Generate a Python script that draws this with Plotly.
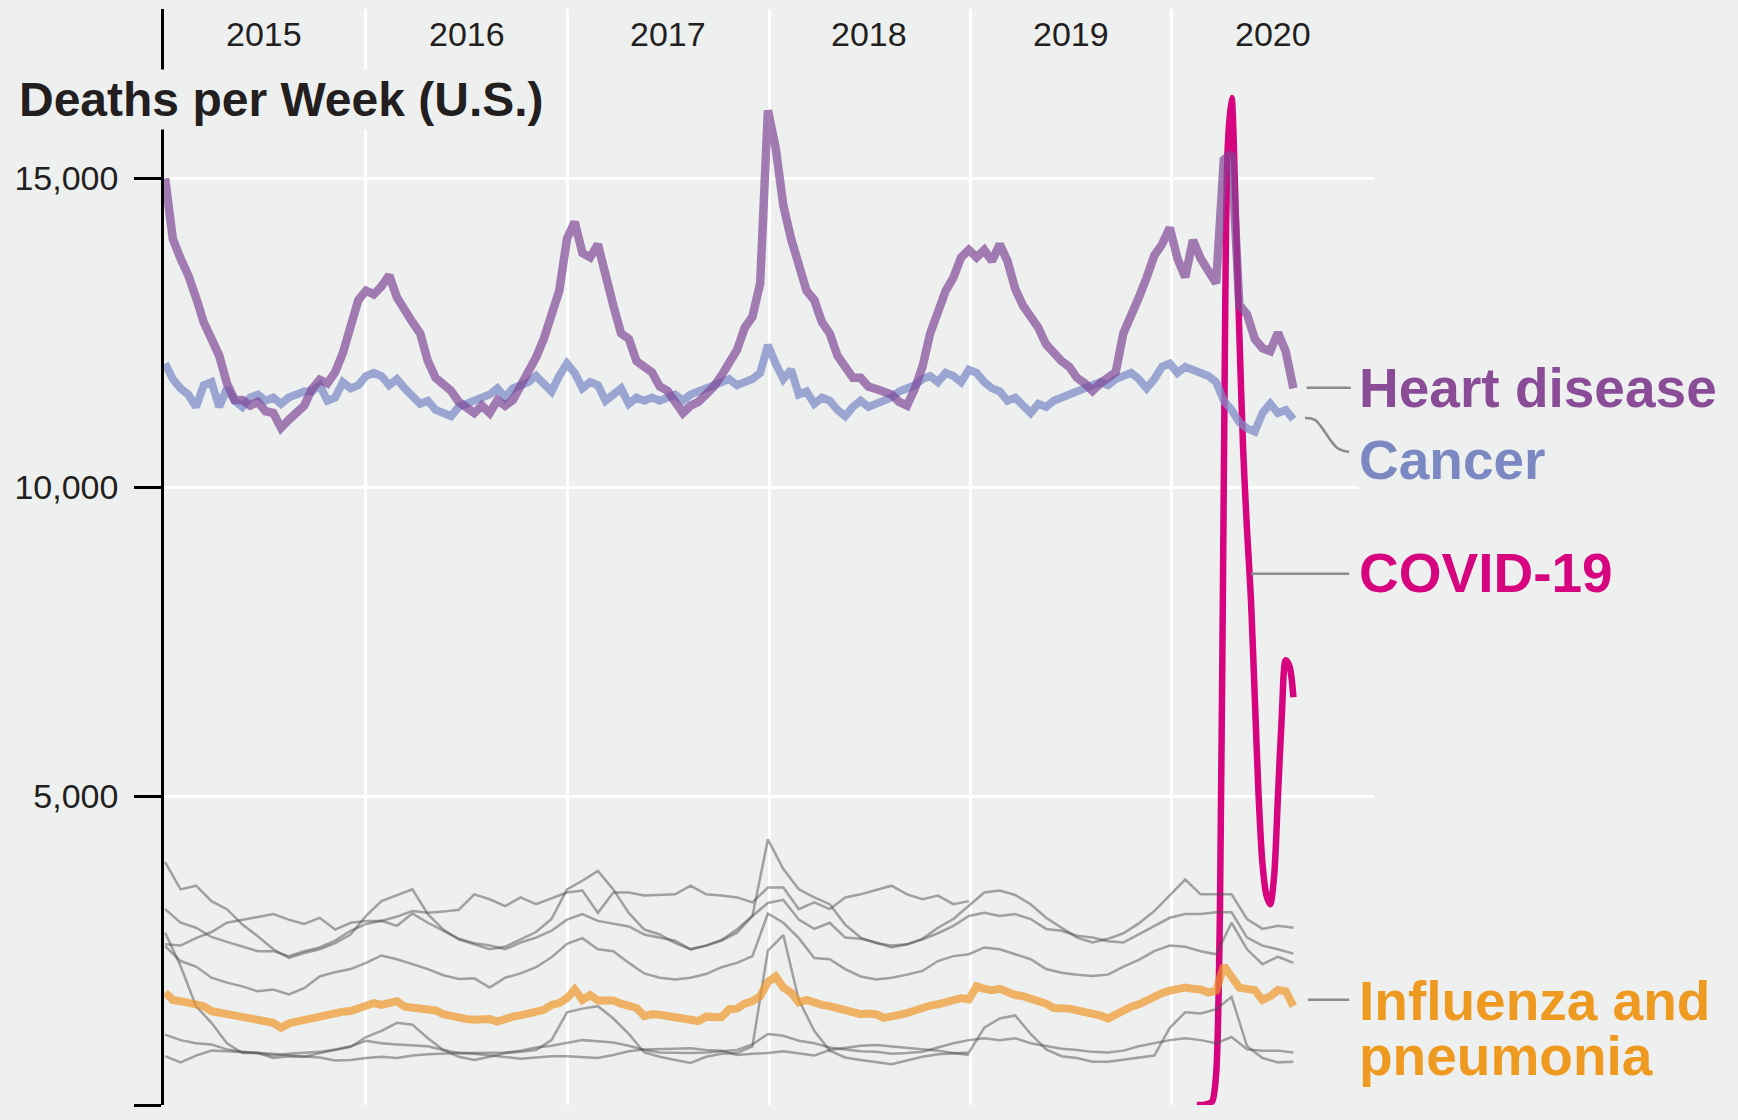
import pandas as pd
import plotly.express as px


def build_deaths_df():
    """주별 사망자 수 (원인별) 데이터프레임"""
    biweekly = pd.date_range('2015-01-03', periods=147, freq='14D')
    four_weekly = pd.date_range('2015-01-03', periods=74, freq='28D')
    covid_weeks = pd.date_range('2020-02-15', periods=26, freq='7D')

    heart = [
        15000, 14020, 13700, 13430, 13070, 12670, 12400, 12130, 11680, 11410,
        11410, 11320, 11380, 11230, 11200, 10960, 11090, 11230, 11320, 11590,
        11740, 11680, 11860, 12170, 12580, 13030, 13180, 13120, 13250, 13430,
        13070, 12850, 12670, 12490, 12040, 11770, 11680, 11560, 11380, 11270,
        11200, 11320, 11200, 11410, 11320, 11410, 11630, 11860, 12100, 12400,
        12760, 13180, 14020, 14290, 13790, 13720, 13930, 13390, 12940, 12490,
        12400, 12040, 11950, 11860, 11630, 11560, 11380, 11200, 11320, 11380,
        11500, 11630, 11810, 11990, 12220, 12580, 12760, 13300, 16100, 15500,
        14560, 14020, 13570, 13180, 13030, 12670, 12490, 12130, 11950, 11770,
        11770, 11630, 11590, 11560, 11500, 11380, 11320, 11590, 11950, 12490,
        12850, 13180, 13390, 13720, 13840, 13720, 13840, 13660, 13930, 13660,
        13210, 12940, 12760, 12580, 12310, 12170, 12040, 11950, 11770, 11680,
        11560, 11680, 11770, 11860, 12490, 12760, 13070, 13390, 13750, 13930,
        14200, 13700, 13400, 14000, 13700, 13500, 13300, 15300, 15400, 12950,
        12800, 12400, 12250, 12200, 12500, 12200, 11600,
    ]
    cancer = [
        12000, 11750, 11600, 11500, 11300, 11650, 11700, 11300, 11600, 11400,
        11300, 11450, 11500, 11400, 11450, 11350, 11450, 11500, 11550, 11550,
        11650, 11400, 11450, 11700, 11600, 11650, 11800, 11850, 11800, 11650,
        11750, 11600, 11450, 11350, 11400, 11250, 11200, 11150, 11300, 11350,
        11400, 11450, 11500, 11600, 11450, 11600, 11650, 11700, 11800, 11650,
        11550, 11800, 12000, 11850, 11600, 11700, 11650, 11400, 11500, 11600,
        11350, 11450, 11400, 11450, 11400, 11450, 11500, 11400, 11500, 11550,
        11600, 11650, 11700, 11750, 11650, 11700, 11750, 11850, 12300, 12000,
        11750, 11900, 11500, 11550, 11350, 11450, 11400, 11250, 11150, 11300,
        11400, 11300, 11350, 11400, 11450, 11550, 11600, 11650, 11750, 11800,
        11700, 11850, 11800, 11700, 11900, 11850, 11700, 11600, 11550, 11400,
        11450, 11300, 11200, 11350, 11300, 11400, 11450, 11500, 11550, 11600,
        11650, 11700, 11650, 11750, 11800, 11850, 11750, 11600, 11750, 11950,
        12000, 11850, 11950, 11900, 11850, 11800, 11700, 11400, 11250, 11050,
        10950, 10900, 11200, 11350, 11200, 11250, 11100,
    ]
    flu = [
        1820, 1700, 1680, 1650, 1620, 1600, 1520, 1500, 1470, 1430,
        1440, 1400, 1390, 1380, 1330, 1250, 1320, 1350, 1380, 1390,
        1430, 1470, 1490, 1510, 1520, 1560, 1580, 1650, 1620, 1640,
        1680, 1590, 1570, 1540, 1520, 1530, 1470, 1440, 1400, 1390,
        1380, 1400, 1390, 1350, 1400, 1430, 1450, 1480, 1500, 1540,
        1620, 1650, 1730, 1870, 1700, 1780, 1690, 1700, 1690, 1640,
        1620, 1570, 1440, 1470, 1460, 1440, 1430, 1420, 1410, 1360,
        1430, 1440, 1420, 1550, 1560, 1640, 1680, 1760, 1990, 2080,
        1900, 1820, 1660, 1700, 1650, 1620, 1600, 1570, 1520, 1480,
        1470, 1480, 1470, 1410, 1450, 1460, 1490, 1540, 1560, 1610,
        1630, 1660, 1700, 1730, 1710, 1920, 1880, 1860, 1880, 1820,
        1780, 1760, 1720, 1690, 1640, 1570, 1580, 1560, 1530, 1510,
        1490, 1450, 1400, 1470, 1550, 1590, 1630, 1700, 1740, 1810,
        1850, 1890, 1900, 1880, 1870, 1820, 1850, 2250, 2100, 1900,
        1880, 1860, 1700, 1760, 1860, 1840, 1600,
    ]
    covid = [
        0, 0, 5, 20, 60, 500, 3200, 10200, 15500, 16300,
        14600, 12500, 10600, 9300, 8200, 6600, 5000, 3900, 3400, 3250,
        3700, 5000, 6300, 7200, 7100, 6600,
    ]

    # 회색 배경 선 (4주 간격)
    others = {
        'other 1': [
            2600, 2580, 2700, 2800, 2950, 3000, 3050, 3090, 3000, 2930,
            3030, 2840, 2950, 2980, 2980, 3050, 3140, 3110, 3130, 3160,
            3410, 3330, 3220, 3360, 3250, 3350, 3440, 3470, 3110, 3440,
            3440, 3390, 3400, 3410, 3550, 3410, 3390, 3360, 3280, 3520,
            3520, 3170, 3280, 3170, 3360, 3410, 3480, 3550, 3410, 3330,
            3390, 3250, 3300,
        ],
        'other 2': [
            3930, 3490, 3550, 3300, 3170, 2920, 2730, 2520, 2380, 2460,
            2520, 2620, 2760, 3060, 3300, 3390, 3490, 3090, 2840, 2680,
            2600, 2520, 2560, 2680, 2800, 3010, 3490, 3630, 3790, 3490,
            3110, 2840, 2760, 2620, 2520, 2580, 2670, 2840, 3060, 4300,
            3820, 3490, 3360, 3250, 2920, 2710, 2620, 2580, 2600, 2690,
            2870, 3010, 3220, 3440, 3470, 3400, 3250, 3030, 2870, 2710,
            2630, 2690, 2780, 2940, 3140, 3390, 3650, 3410, 3410, 3410,
            3010, 2850, 2900, 2870,
        ],
        'other 3': [
            3170, 2950, 2870, 2720, 2640, 2570, 2490, 2490, 2410, 2490,
            2550, 2660, 2820, 2930, 2980, 2900, 3100, 2950, 2820, 2690,
            2620, 2580, 2520, 2630, 2710, 2820, 3000, 3090, 2980, 2930,
            2890, 2760, 2710, 2660, 2520, 2580, 2660, 2790, 3060, 3270,
            3320, 3000, 2850, 2950, 2710, 2690, 2630, 2550, 2600, 2680,
            2780, 2900, 3060, 3110, 3060, 3090, 3010, 2850, 2820, 2740,
            2710, 2650, 2630, 2760, 2890, 3030, 3090, 3090, 3120, 3120,
            2710, 2580, 2520, 2450,
        ],
        'other 4': [
            2570, 2330, 2240, 2060, 1980, 1920, 1840, 1870, 1790, 1890,
            2080, 2150, 2200, 2300, 2420, 2360, 2280, 2200, 2100, 2040,
            2050, 1900, 2060, 2130, 2230, 2390, 2610, 2700, 2520, 2490,
            2300, 2130, 2060, 2030, 2060, 2120, 2230, 2300, 2410, 3100,
            2950, 2700, 2380, 2360, 2200, 2080, 2030, 2060, 2110, 2170,
            2330, 2410, 2440, 2550, 2520, 2440, 2360, 2200, 2140, 2110,
            2090, 2110, 2240, 2350, 2490, 2580, 2560, 2490, 2440, 2950,
            2520, 2280, 2400, 2300,
        ],
        'other 5': [
            2790, 2250, 1600, 1330, 1000, 840, 840, 760, 790, 780,
            840, 890, 940, 1100, 1200, 1330, 1300, 1080, 890, 780,
            730, 780, 840, 860, 890, 1050, 1500, 1560, 1600, 1400,
            1150, 850, 780, 730, 680, 780, 830, 840, 950, 2500,
            2750, 1700, 1200, 880, 770, 730, 700, 660, 720, 780,
            820, 830, 850, 1250, 1400, 1450, 1150, 900, 790, 760,
            700, 700, 730, 760, 800, 1250, 1500, 1480, 1550, 1750,
            950, 760, 690, 700,
        ],
        'other 6': [
            1140, 1050, 1000, 980, 900, 860, 840, 800, 830, 840,
            860, 900, 950, 1040, 1000, 980, 970, 950, 890, 840,
            840, 840, 850, 880, 930, 960, 1000, 1050, 1030, 1010,
            960, 890, 850, 840, 840, 850, 870, 890, 980, 1150,
            1120, 1040, 1000, 930, 900, 870, 860, 830, 840, 860,
            930, 1000, 1050, 1080, 1050, 1080, 1000, 950, 910, 890,
            860, 850, 880, 950, 1000, 1050, 1080, 1050, 1000, 1100,
            900, 880, 880, 850,
        ],
        'other 7': [
            790, 690, 800, 880, 870, 860, 840, 830, 800, 790,
            770, 720, 730, 760, 780, 760, 800, 820, 830, 840,
            830, 800, 770, 750, 770, 790, 790, 780, 760, 810,
            870, 900, 900, 910, 920, 890, 880, 810, 830, 840,
            870, 830, 800, 890, 920, 960, 970, 950, 920, 900,
            880, 840, 810,
        ],
    }

    frames = [pd.DataFrame({'date': covid_weeks, 'deaths': covid, 'cause': 'COVID-19'})]
    for name, values in others.items():
        frames.append(pd.DataFrame({'date': four_weekly[:len(values)], 'deaths': values, 'cause': name}))
    frames.append(pd.DataFrame({'date': biweekly, 'deaths': flu, 'cause': 'Influenza and pneumonia'}))
    frames.append(pd.DataFrame({'date': biweekly, 'deaths': cancer, 'cause': 'Cancer'}))
    frames.append(pd.DataFrame({'date': biweekly, 'deaths': heart, 'cause': 'Heart disease'}))

    return pd.concat(frames, ignore_index=True)


def create_deaths_chart(deaths_df):
    """원인별 주간 사망자 수 라인 차트"""
    bg = '#EEF0EF'
    gray = 'rgba(80,80,80,0.5)'
    colors = {
        'COVID-19': '#D6047E',
        'Influenza and pneumonia': 'rgba(240,150,40,0.7)',
        'Cancer': 'rgba(127,140,200,0.75)',
        'Heart disease': 'rgba(127,71,151,0.7)',
    }
    colors.update({f'other {i}': gray for i in range(1, 8)})

    fig = px.line(
        deaths_df,
        x='date',
        y='deaths',
        color='cause',
        color_discrete_map=colors
    )

    fig.update_traces(line_width=2.5)
    fig.update_traces(line_width=8.5, selector=dict(name='Heart disease'))
    fig.update_traces(line_width=8, selector=dict(name='Cancer'))
    fig.update_traces(line_width=8, selector=dict(name='Influenza and pneumonia'))
    fig.update_traces(line_width=6.5, line_shape='spline', line_smoothing=0.8,
                      selector=dict(name='COVID-19'))

    # 라벨 연결선
    leaders = [
        (['2020-09-01', '2020-11-20'], [11610, 11610], 'linear'),
        (['2020-08-29', '2020-09-16', '2020-10-26', '2020-11-17'], [11120, 11090, 10640, 10570], 'spline'),
        (['2020-05-23', '2020-11-17'], [8600, 8600], 'linear'),
        (['2020-09-03', '2020-11-17'], [1705, 1705], 'linear'),
    ]
    for xs, ys, shape in leaders:
        fig.add_scatter(x=xs, y=ys, mode='lines', line=dict(color='#8C8C8C', width=2.5, shape=shape),
                        showlegend=False, hoverinfo='skip')

    fig.update_layout(
        width=1738,
        height=1120,
        autosize=False,
        showlegend=False,
        margin=dict(l=164, r=364, t=9, b=15),
        plot_bgcolor=bg,
        paper_bgcolor=bg,
        font=dict(family='Liberation Sans, Arial, sans-serif', color='#231F20')
    )
    fig.update_xaxes(
        range=['2015-01-01', '2021-01-01'],
        tick0='2015-01-01',
        dtick='M12',
        showgrid=True,
        gridcolor='white',
        gridwidth=2.5,
        showticklabels=False,
        ticks='',
        zeroline=False,
        title_text=None
    )
    fig.update_yaxes(
        range=[0, 17740],
        tickvals=[0, 5000, 10000, 15000],
        tickformat=',',
        showgrid=True,
        gridcolor='white',
        gridwidth=2.5,
        zeroline=False,
        showline=True,
        linecolor='black',
        linewidth=2.5,
        ticks='outside',
        ticklen=27,
        tickwidth=2.5,
        tickcolor='black',
        ticklabelstandoff=9,
        tickfont=dict(size=34, color='#231F20'),
        title_text=None
    )

    for year in range(2015, 2021):
        fig.add_annotation(x=f'{year}-07-02', y=0.977, yref='paper', yanchor='middle', text=str(year),
                           showarrow=False, font=dict(size=34, color='#231F20'))

    fig.add_annotation(
        x=-0.1235, y=0.917, xref='paper', yref='paper', xanchor='left', yanchor='middle',
        text='Deaths per Week (U.S.)', showarrow=False, bgcolor=bg, borderpad=3,
        font=dict(size=48, color='#231F20', weight='bold')
    )

    labels = [
        ('Heart disease', 11610, '#8A4B97'),
        ('Cancer', 10440, '#7B88C1'),
        ('COVID-19', 8610, '#D6047E'),
        ('Influenza and', 1690, '#EE9A20'),
        ('pneumonia', 790, '#EE9A20'),
    ]
    for text, y, color in labels:
        fig.add_annotation(x=0.9868, y=y, xref='paper', yref='y', xanchor='left', yanchor='middle',
                           text=text, showarrow=False, bgcolor=bg, borderpad=0,
                           font=dict(size=55, color=color, weight='bold'))

    return fig


fig = create_deaths_chart(build_deaths_df())
fig.write_html("out.html", config={'displayModeBar': False},
               post_script="document.body.style.margin = '0';")
